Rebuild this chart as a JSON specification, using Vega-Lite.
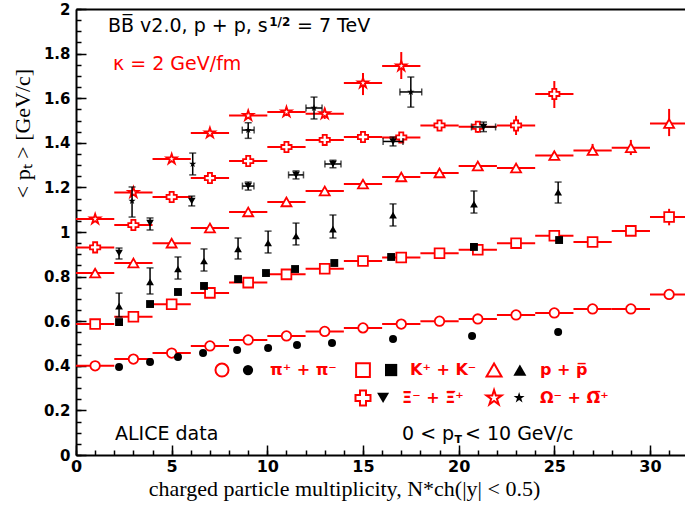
{
  "$schema": "https://vega.github.io/schema/vega-lite/v6.json",
  "width": 609,
  "height": 446,
  "autosize": "none",
  "padding": {"left": 76, "top": 9, "right": 0, "bottom": 51},
  "background": "white",
  "config": {"view": {"stroke": null}, "axis": {"grid": false, "labelFontWeight": "bold"}},
  "datasets": {
    "model": [
      {"s":"pi","x":1,"xlo":0,"xhi":2,"y":0.400},{"s":"pi","x":3,"xlo":2,"xhi":4,"y":0.430},{"s":"pi","x":5,"xlo":4,"xhi":6,"y":0.457},{"s":"pi","x":7,"xlo":6,"xhi":8,"y":0.489},
      {"s":"pi","x":9,"xlo":8,"xhi":10,"y":0.516},{"s":"pi","x":11,"xlo":10,"xhi":12,"y":0.534},{"s":"pi","x":13,"xlo":12,"xhi":14,"y":0.554},{"s":"pi","x":15,"xlo":14,"xhi":16,"y":0.570},
      {"s":"pi","x":17,"xlo":16,"xhi":18,"y":0.587},{"s":"pi","x":19,"xlo":18,"xhi":20,"y":0.600},{"s":"pi","x":21,"xlo":20,"xhi":22,"y":0.610},{"s":"pi","x":23,"xlo":22,"xhi":24,"y":0.628},
      {"s":"pi","x":25,"xlo":24,"xhi":26,"y":0.637},{"s":"pi","x":27,"xlo":26,"xhi":28,"y":0.655},{"s":"pi","x":29,"xlo":28,"xhi":30,"y":0.655},{"s":"pi","x":31,"xlo":30,"xhi":32,"y":0.720},
      {"s":"K","x":1,"xlo":0,"xhi":2,"y":0.587},{"s":"K","x":3,"xlo":2,"xhi":4,"y":0.620},{"s":"K","x":5,"xlo":4,"xhi":6,"y":0.676},{"s":"K","x":7,"xlo":6,"xhi":8,"y":0.727},
      {"s":"K","x":9,"xlo":8,"xhi":10,"y":0.773},{"s":"K","x":11,"xlo":10,"xhi":12,"y":0.810},{"s":"K","x":13,"xlo":12,"xhi":14,"y":0.835},{"s":"K","x":15,"xlo":14,"xhi":16,"y":0.870},
      {"s":"K","x":17,"xlo":16,"xhi":18,"y":0.886},{"s":"K","x":19,"xlo":18,"xhi":20,"y":0.905},{"s":"K","x":21,"xlo":20,"xhi":22,"y":0.920},{"s":"K","x":23,"xlo":22,"xhi":24,"y":0.950},
      {"s":"K","x":25,"xlo":24,"xhi":26,"y":0.983},{"s":"K","x":27,"xlo":26,"xhi":28,"y":0.955},{"s":"K","x":29,"xlo":28,"xhi":30,"y":1.005},{"s":"K","x":31,"xlo":30,"xhi":32,"y":1.067},
      {"s":"p","x":1,"xlo":0,"xhi":2,"y":0.816},{"s":"p","x":3,"xlo":2,"xhi":4,"y":0.861},{"s":"p","x":5,"xlo":4,"xhi":6,"y":0.950},{"s":"p","x":7,"xlo":6,"xhi":8,"y":1.018},
      {"s":"p","x":9,"xlo":8,"xhi":10,"y":1.090},{"s":"p","x":11,"xlo":10,"xhi":12,"y":1.135},{"s":"p","x":13,"xlo":12,"xhi":14,"y":1.184},{"s":"p","x":15,"xlo":14,"xhi":16,"y":1.215},
      {"s":"p","x":17,"xlo":16,"xhi":18,"y":1.247},{"s":"p","x":19,"xlo":18,"xhi":20,"y":1.265},{"s":"p","x":21,"xlo":20,"xhi":22,"y":1.296},{"s":"p","x":23,"xlo":22,"xhi":24,"y":1.287},
      {"s":"p","x":25,"xlo":24,"xhi":26,"y":1.343},{"s":"p","x":27,"xlo":26,"xhi":28,"y":1.365},{"s":"p","x":29,"xlo":28,"xhi":30,"y":1.378},{"s":"p","x":31,"xlo":30,"xhi":32,"y":1.486},
      {"s":"Xi","x":1,"xlo":0,"xhi":2,"y":0.931},{"s":"Xi","x":3,"xlo":2,"xhi":4,"y":1.031},{"s":"Xi","x":5,"xlo":4,"xhi":6,"y":1.157},{"s":"Xi","x":7,"xlo":6,"xhi":8,"y":1.242},
      {"s":"Xi","x":9,"xlo":8,"xhi":10,"y":1.318},{"s":"Xi","x":11,"xlo":10,"xhi":12,"y":1.381},{"s":"Xi","x":13,"xlo":12,"xhi":14,"y":1.413},{"s":"Xi","x":15,"xlo":14,"xhi":16,"y":1.426},
      {"s":"Xi","x":17,"xlo":16,"xhi":18,"y":1.424},{"s":"Xi","x":19,"xlo":18,"xhi":20,"y":1.478},{"s":"Xi","x":21,"xlo":20,"xhi":22,"y":1.472},{"s":"Xi","x":23,"xlo":22,"xhi":24,"y":1.478},
      {"s":"Xi","x":25,"xlo":24,"xhi":26,"y":1.619},
      {"s":"Om","x":1,"xlo":0,"xhi":2,"y":1.058},{"s":"Om","x":3,"xlo":2,"xhi":4,"y":1.177},{"s":"Om","x":5,"xlo":4,"xhi":6,"y":1.327},{"s":"Om","x":7,"xlo":6,"xhi":8,"y":1.444},
      {"s":"Om","x":9,"xlo":8,"xhi":10,"y":1.522},{"s":"Om","x":11,"xlo":10,"xhi":12,"y":1.538},{"s":"Om","x":13,"xlo":12,"xhi":14,"y":1.530},{"s":"Om","x":15,"xlo":14,"xhi":16,"y":1.668},
      {"s":"Om","x":17,"xlo":16,"xhi":18,"y":1.744}
    ],
    "modelErr": [
      {"s":"Om","x":11,"lo":1.520,"hi":1.556},{"s":"Om","x":13,"lo":1.507,"hi":1.553},{"s":"Om","x":15,"lo":1.614,"hi":1.713},{"s":"Om","x":17,"lo":1.686,"hi":1.807},
      {"s":"Xi","x":21,"lo":1.445,"hi":1.497},{"s":"Xi","x":23,"lo":1.435,"hi":1.521},{"s":"Xi","x":25,"lo":1.556,"hi":1.677},
      {"s":"p","x":27,"lo":1.345,"hi":1.395},{"s":"p","x":29,"lo":1.345,"hi":1.413},{"s":"p","x":31,"lo":1.430,"hi":1.552},
      {"s":"K","x":31,"lo":1.030,"hi":1.104}
    ],
    "alice": [
      {"s":"pi","x":2.25,"y":0.395},{"s":"pi","x":3.87,"y":0.417},{"s":"pi","x":5.33,"y":0.440},{"s":"pi","x":6.64,"y":0.457},
      {"s":"pi","x":8.42,"y":0.471},{"s":"pi","x":10.04,"y":0.480},{"s":"pi","x":11.55,"y":0.493},{"s":"pi","x":13.38,"y":0.502},
      {"s":"pi","x":16.57,"y":0.520},{"s":"pi","x":20.7,"y":0.534},{"s":"pi","x":25.2,"y":0.552},
      {"s":"K","x":2.25,"y":0.596},{"s":"K","x":3.87,"y":0.677},{"s":"K","x":5.33,"y":0.731},{"s":"K","x":6.69,"y":0.758},
      {"s":"K","x":8.47,"y":0.789},{"s":"K","x":9.93,"y":0.816},{"s":"K","x":11.45,"y":0.834},{"s":"K","x":13.5,"y":0.861},
      {"s":"K","x":16.47,"y":0.888},{"s":"K","x":20.8,"y":0.933},{"s":"K","x":25.25,"y":0.964},
      {"s":"p","x":2.25,"y":0.668,"lo":0.619,"hi":0.726},{"s":"p","x":3.87,"y":0.776,"lo":0.722,"hi":0.839},
      {"s":"p","x":5.33,"y":0.834,"lo":0.789,"hi":0.888},{"s":"p","x":6.69,"y":0.870,"lo":0.825,"hi":0.924},
      {"s":"p","x":8.47,"y":0.924,"lo":0.879,"hi":0.973},{"s":"p","x":10.04,"y":0.951,"lo":0.906,"hi":1.004},
      {"s":"p","x":11.5,"y":0.982,"lo":0.942,"hi":1.040},{"s":"p","x":13.43,"y":1.013,"lo":0.973,"hi":1.076},
      {"s":"p","x":16.57,"y":1.076,"lo":1.027,"hi":1.126},{"s":"p","x":20.8,"y":1.125,"lo":1.085,"hi":1.184},
      {"s":"p","x":25.2,"y":1.179,"lo":1.130,"hi":1.224},
      {"s":"Xi","x":2.25,"y":0.906,"lo":0.879,"hi":0.928},{"s":"Xi","x":3.87,"y":1.040,"lo":1.009,"hi":1.063},
      {"s":"Xi","x":6.05,"y":1.139,"lo":1.117,"hi":1.161},
      {"s":"Xi","x":9.0,"y":1.206,"lo":1.188,"hi":1.224,"xlo":8.7,"xhi":9.3},
      {"s":"Xi","x":11.5,"y":1.256,"lo":1.238,"hi":1.274,"xlo":11.11,"xhi":11.89},
      {"s":"Xi","x":13.43,"y":1.305,"lo":1.288,"hi":1.322,"xlo":13.01,"xhi":13.85},
      {"s":"Xi","x":16.57,"y":1.406,"lo":1.386,"hi":1.426,"xlo":16.05,"xhi":17.09},
      {"s":"Xi","x":21.3,"y":1.471,"lo":1.450,"hi":1.493,"xlo":20.67,"xhi":21.93},
      {"s":"Om","x":2.93,"y":1.139,"lo":1.067,"hi":1.202},{"s":"Om","x":6.1,"y":1.305,"lo":1.256,"hi":1.354},
      {"s":"Om","x":9.0,"y":1.457,"lo":1.420,"hi":1.490,"xlo":8.69,"xhi":9.31},
      {"s":"Om","x":12.44,"y":1.556,"lo":1.507,"hi":1.605,"xlo":12.02,"xhi":12.86},
      {"s":"Om","x":17.5,"y":1.628,"lo":1.560,"hi":1.695,"xlo":16.93,"xhi":18.07}
    ]
  },
  "resolve": {"axis": {"x": "independent", "y": "independent"}},
  "layer": [
    {
      "resolve": {"scale": {"shape": "independent", "size": "independent"}},
      "layer": [
        {
          "data": {"name": "model"},
          "mark": {"type": "rule", "color": "#ff0000", "strokeWidth": 2, "clip": true},
          "encoding": {
            "x": {"field": "xlo", "type": "quantitative", "title": "charged particle multiplicity, N*ch(|y| < 0.5)",
              "scale": {"domain": [0, 31.83], "nice": false, "zero": false},
              "axis": {"orient": "bottom", "values": [0,5,10,15,20,25,30], "ticks": false, "labelFlush": false,
                "labelFont": "DejaVu Sans", "labelFontWeight": "bold", "labelFontSize": 16, "labelColor": "black", "labelPadding": 3,
                "domainColor": "black", "domainWidth": 2,
                "titleFont": "Liberation Serif", "titleFontSize": 22,
                "titleFontWeight": "normal", "titleColor": "black", "titleX": 268, "titleY": 40, "titleBaseline": "alphabetic", "titleAlign": "center"}},
            "x2": {"field": "xhi"},
            "y": {"field": "y", "type": "quantitative", "title": "< pₜ > [GeV/c]",
              "scale": {"domain": [0, 2], "nice": false, "zero": true},
              "axis": {"orient": "left", "values": [0,0.2,0.4,0.6,0.8,1,1.2,1.4,1.6,1.8,2], "format": "~g", "ticks": false, "labelFlush": false,
                "labelFont": "DejaVu Sans", "labelFontWeight": "bold", "labelFontSize": 15, "labelColor": "black", "labelPadding": 6,
                "domainColor": "black", "domainWidth": 2,
                "titleFont": "Liberation Serif", "titleFontSize": 22, "titleFontWeight": "normal",
                "titleColor": "black", "titleX": -54, "titleY": 124, "titleAngle": -90, "titleBaseline": "middle", "titleAlign": "center"}}
          }
        },
        {
          "data": {"name": "modelErr"},
          "mark": {"type": "rule", "color": "#ff0000", "strokeWidth": 2, "clip": true},
          "encoding": {
            "x": {"field": "x", "type": "quantitative", "title": "charged particle multiplicity, N*ch(|y| < 0.5)"},
            "y": {"field": "lo", "type": "quantitative", "title": "< pₜ > [GeV/c]"},
            "y2": {"field": "hi"}
          }
        },
        {
          "data": {"name": "model"},
          "mark": {"type": "point", "filled": true, "fill": "white", "stroke": "#ff0000", "strokeWidth": 1.8, "opacity": 1, "clip": true},
          "encoding": {
            "x": {"field": "x", "type": "quantitative", "title": "charged particle multiplicity, N*ch(|y| < 0.5)"},
            "y": {"field": "y", "type": "quantitative", "title": "< pₜ > [GeV/c]"},
            "shape": {"field": "s", "type": "nominal", "legend": null,
              "scale": {"domain": ["pi","K","p","Xi","Om"], "range": ["circle","square","triangle-up","cross","M0,-1L0.2245,-0.309L0.951,-0.309L0.363,0.118L0.588,0.809L0,0.382L-0.588,0.809L-0.363,0.118L-0.951,-0.309L-0.2245,-0.309Z"]}},
            "size": {"field": "s", "type": "ordinal", "legend": null,
              "scale": {"domain": ["pi","K","p","Xi","Om"], "range": [90, 110, 121, 144, 140]}}
          }
        },
        {
          "data": {"name": "alice"},
          "transform": [{"filter": "isValid(datum.lo)"}],
          "mark": {"type": "errorbar", "color": "black", "thickness": 1.5, "ticks": {"size": 7}},
          "encoding": {
            "x": {"field": "x", "type": "quantitative", "title": "charged particle multiplicity, N*ch(|y| < 0.5)"},
            "y": {"field": "lo", "type": "quantitative", "title": "< pₜ > [GeV/c]"},
            "y2": {"field": "hi"}
          }
        },
        {
          "data": {"name": "alice"},
          "transform": [{"filter": "isValid(datum.xlo)"}],
          "mark": {"type": "errorbar", "color": "black", "thickness": 1.5, "ticks": {"size": 7}},
          "encoding": {
            "y": {"field": "y", "type": "quantitative", "title": "< pₜ > [GeV/c]"},
            "x": {"field": "xlo", "type": "quantitative", "title": "charged particle multiplicity, N*ch(|y| < 0.5)"},
            "x2": {"field": "xhi"}
          }
        },
        {
          "data": {"name": "alice"},
          "mark": {"type": "point", "filled": true, "color": "black", "opacity": 1},
          "encoding": {
            "x": {"field": "x", "type": "quantitative", "title": "charged particle multiplicity, N*ch(|y| < 0.5)"},
            "y": {"field": "y", "type": "quantitative", "title": "< pₜ > [GeV/c]"},
            "shape": {"field": "s", "type": "nominal", "legend": null,
              "scale": {"domain": ["pi","K","p","Xi","Om"], "range": ["circle","square","triangle-up","triangle-down","M0,-1L0.2245,-0.309L0.951,-0.309L0.363,0.118L0.588,0.809L0,0.382L-0.588,0.809L-0.363,0.118L-0.951,-0.309L-0.2245,-0.309Z"]}},
            "size": {"field": "s", "type": "ordinal", "legend": null,
              "scale": {"domain": ["pi","K","p","Xi","Om"], "range": [64, 56, 64, 75, 55]}}
          }
        },
        {
          "data": {"values": [{}]},
          "layer": [
            {"mark": {"type": "text", "text": "BB̅ v2.0, p + p, s", "align": "left", "baseline": "alphabetic", "font": "DejaVu Sans", "fontSize": 19, "color": "black"},
             "encoding": {"x": {"datum": 1.673, "type": "quantitative"}, "y": {"datum": 1.897, "type": "quantitative"}}},
            {"mark": {"type": "text", "text": "1/2", "align": "left", "baseline": "alphabetic", "font": "DejaVu Sans", "fontSize": 12, "fontWeight": "bold", "color": "black"},
             "encoding": {"x": {"datum": 10.1, "type": "quantitative"}, "y": {"datum": 1.926, "type": "quantitative"}}},
            {"mark": {"type": "text", "text": "= 7 TeV", "align": "left", "baseline": "alphabetic", "font": "DejaVu Sans", "fontSize": 19, "color": "black"},
             "encoding": {"x": {"datum": 11.55, "type": "quantitative"}, "y": {"datum": 1.897, "type": "quantitative"}}},
            {"mark": {"type": "text", "text": "κ = 2 GeV/fm", "align": "left", "baseline": "alphabetic", "font": "DejaVu Sans", "fontSize": 19, "color": "#ff0000"},
             "encoding": {"x": {"datum": 1.934, "type": "quantitative"}, "y": {"datum": 1.726, "type": "quantitative"}}},
            {"mark": {"type": "text", "text": "ALICE data", "align": "left", "baseline": "alphabetic", "font": "DejaVu Sans", "fontSize": 19, "color": "black"},
             "encoding": {"x": {"datum": 2.04, "type": "quantitative"}, "y": {"datum": 0.067, "type": "quantitative"}}},
            {"mark": {"type": "text", "text": "0 < p", "align": "left", "baseline": "alphabetic", "font": "DejaVu Sans", "fontSize": 19, "color": "black"},
             "encoding": {"x": {"datum": 17.04, "type": "quantitative"}, "y": {"datum": 0.067, "type": "quantitative"}}},
            {"mark": {"type": "text", "text": "T", "align": "left", "baseline": "alphabetic", "font": "DejaVu Sans", "fontSize": 11, "fontWeight": "bold", "color": "black"},
             "encoding": {"x": {"datum": 19.78, "type": "quantitative"}, "y": {"datum": 0.055, "type": "quantitative"}}},
            {"mark": {"type": "text", "text": "< 10 GeV/c", "align": "left", "baseline": "alphabetic", "font": "DejaVu Sans", "fontSize": 19, "color": "black"},
             "encoding": {"x": {"datum": 20.33, "type": "quantitative"}, "y": {"datum": 0.067, "type": "quantitative"}}},
            {"mark": {"type": "point", "shape": "circle", "size": 170, "filled": true, "fill": "white", "stroke": "#ff0000", "strokeWidth": 2, "opacity": 1},
             "encoding": {"x": {"datum": 7.63, "type": "quantitative"}, "y": {"datum": 0.381, "type": "quantitative"}}},
            {"mark": {"type": "point", "shape": "circle", "size": 105, "filled": true, "color": "black", "opacity": 1},
             "encoding": {"x": {"datum": 8.99, "type": "quantitative"}, "y": {"datum": 0.381, "type": "quantitative"}}},
            {"mark": {"type": "point", "shape": "square", "size": 190, "filled": true, "fill": "white", "stroke": "#ff0000", "strokeWidth": 2, "opacity": 1},
             "encoding": {"x": {"datum": 15.0, "type": "quantitative"}, "y": {"datum": 0.381, "type": "quantitative"}}},
            {"mark": {"type": "point", "shape": "square", "size": 150, "filled": true, "color": "black", "opacity": 1},
             "encoding": {"x": {"datum": 16.47, "type": "quantitative"}, "y": {"datum": 0.381, "type": "quantitative"}}},
            {"mark": {"type": "point", "shape": "triangle-up", "size": 225, "filled": true, "fill": "white", "stroke": "#ff0000", "strokeWidth": 2, "opacity": 1},
             "encoding": {"x": {"datum": 21.85, "type": "quantitative"}, "y": {"datum": 0.381, "type": "quantitative"}}},
            {"mark": {"type": "point", "shape": "triangle-up", "size": 170, "filled": true, "color": "black", "opacity": 1},
             "encoding": {"x": {"datum": 23.2, "type": "quantitative"}, "y": {"datum": 0.381, "type": "quantitative"}}},
            {"mark": {"type": "point", "shape": "cross", "size": 225, "filled": true, "fill": "white", "stroke": "#ff0000", "strokeWidth": 2, "opacity": 1},
             "encoding": {"x": {"datum": 15.0, "type": "quantitative"}, "y": {"datum": 0.256, "type": "quantitative"}}},
            {"mark": {"type": "point", "shape": "triangle-down", "size": 144, "filled": true, "color": "black", "opacity": 1},
             "encoding": {"x": {"datum": 16.05, "type": "quantitative"}, "y": {"datum": 0.256, "type": "quantitative"}}},
            {"mark": {"type": "point", "shape": "M0,-1L0.2245,-0.309L0.951,-0.309L0.363,0.118L0.588,0.809L0,0.382L-0.588,0.809L-0.363,0.118L-0.951,-0.309L-0.2245,-0.309Z", "size": 250, "filled": true, "fill": "white", "stroke": "#ff0000", "strokeWidth": 2, "opacity": 1},
             "encoding": {"x": {"datum": 21.85, "type": "quantitative"}, "y": {"datum": 0.256, "type": "quantitative"}}},
            {"mark": {"type": "point", "shape": "M0,-1L0.2245,-0.309L0.951,-0.309L0.363,0.118L0.588,0.809L0,0.382L-0.588,0.809L-0.363,0.118L-0.951,-0.309L-0.2245,-0.309Z", "size": 134, "filled": true, "color": "black", "opacity": 1},
             "encoding": {"x": {"datum": 23.16, "type": "quantitative"}, "y": {"datum": 0.256, "type": "quantitative"}}},
            {"mark": {"type": "text", "text": "π⁺ + π⁻", "align": "left", "baseline": "middle", "font": "DejaVu Sans", "fontSize": 16, "fontWeight": "bold", "color": "#ff0000"},
             "encoding": {"x": {"datum": 10.14, "type": "quantitative"}, "y": {"datum": 0.381, "type": "quantitative"}}},
            {"mark": {"type": "text", "text": "K⁺ + K⁻", "align": "left", "baseline": "middle", "font": "DejaVu Sans", "fontSize": 16, "fontWeight": "bold", "color": "#ff0000"},
             "encoding": {"x": {"datum": 17.46, "type": "quantitative"}, "y": {"datum": 0.381, "type": "quantitative"}}},
            {"mark": {"type": "text", "text": "p + p̅", "align": "left", "baseline": "middle", "font": "DejaVu Sans", "fontSize": 16, "fontWeight": "bold", "color": "#ff0000"},
             "encoding": {"x": {"datum": 24.25, "type": "quantitative"}, "y": {"datum": 0.381, "type": "quantitative"}}},
            {"mark": {"type": "text", "text": "Ξ⁻ + Ξ̅⁺", "align": "left", "baseline": "middle", "font": "DejaVu Sans", "fontSize": 16, "fontWeight": "bold", "color": "#ff0000"},
             "encoding": {"x": {"datum": 17.04, "type": "quantitative"}, "y": {"datum": 0.256, "type": "quantitative"}}},
            {"mark": {"type": "text", "text": "Ω⁻ + Ω̅⁺", "align": "left", "baseline": "middle", "font": "DejaVu Sans", "fontSize": 16, "fontWeight": "bold", "color": "#ff0000"},
             "encoding": {"x": {"datum": 24.25, "type": "quantitative"}, "y": {"datum": 0.256, "type": "quantitative"}}}
          ]
        }
      ]
    },
    {
      "data": {"name": "model"},
      "mark": {"type": "point", "opacity": 0},
      "encoding": {
        "x": {"field": "x", "type": "quantitative",
          "axis": {"orient": "bottom", "values": [0,1,2,3,4,5,6,7,8,9,10,11,12,13,14,15,16,17,18,19,20,21,22,23,24,25,26,27,28,29,30,31],
            "tickSize": -5, "tickColor": "black", "tickWidth": 1.5, "labels": false, "domain": false, "title": null, "grid": false}},
        "y": {"field": "y", "type": "quantitative",
          "axis": {"orient": "left", "values": [0,0.05,0.1,0.15,0.2,0.25,0.3,0.35,0.4,0.45,0.5,0.55,0.6,0.65,0.7,0.75,0.8,0.85,0.9,0.95,1,1.05,1.1,1.15,1.2,1.25,1.3,1.35,1.4,1.45,1.5,1.55,1.6,1.65,1.7,1.75,1.8,1.85,1.9,1.95,2],
            "tickSize": -5, "tickColor": "black", "tickWidth": 1.5, "labels": false, "domain": false, "title": null, "grid": false}}
      }
    },
    {
      "data": {"name": "model"},
      "mark": {"type": "point", "opacity": 0},
      "encoding": {
        "x": {"field": "x", "type": "quantitative",
          "axis": {"orient": "bottom", "values": [0,5,10,15,20,25,30],
            "tickSize": -10, "tickColor": "black", "tickWidth": 1.5, "labels": false, "domain": false, "title": null, "grid": false}},
        "y": {"field": "y", "type": "quantitative",
          "axis": {"orient": "left", "values": [0,0.2,0.4,0.6,0.8,1,1.2,1.4,1.6,1.8,2],
            "tickSize": -10, "tickColor": "black", "tickWidth": 1.5, "labels": false, "domain": false, "title": null, "grid": false}}
      }
    },
    {
      "data": {"name": "model"},
      "mark": {"type": "point", "opacity": 0},
      "encoding": {
        "x": {"field": "x", "type": "quantitative",
          "axis": {"orient": "top", "ticks": false, "labels": false, "domain": true, "domainColor": "black", "domainWidth": 2, "title": null, "grid": false}},
        "y": {"field": "y", "type": "quantitative", "axis": null}
      }
    }
  ]
}
